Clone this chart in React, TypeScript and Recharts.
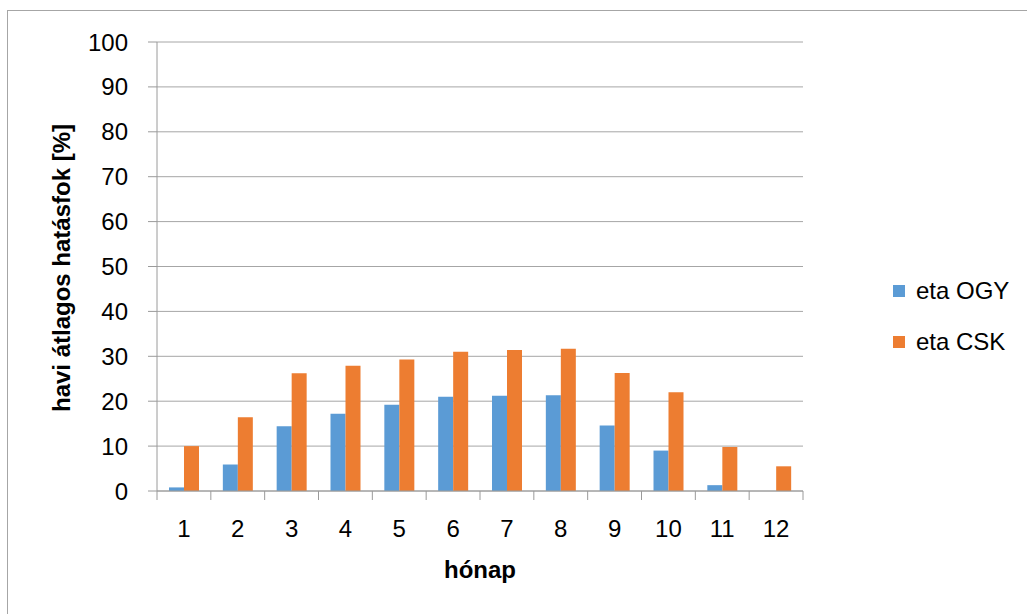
import { Bar, BarChart, CartesianGrid, Label, Legend, XAxis, YAxis } from "recharts";

// havi adatok
const months = ["1", "2", "3", "4", "5", "6", "7", "8", "9", "10", "11", "12"];
const etaOGY = [0.8, 5.9, 14.4, 17.2, 19.2, 21.0, 21.2, 21.3, 14.6, 9.0, 1.3, 0];
const etaCSK = [10.0, 16.4, 26.2, 27.9, 29.3, 31.0, 31.4, 31.7, 26.3, 22.0, 9.8, 5.5];
const yTicks = [0, 10, 20, 30, 40, 50, 60, 70, 80, 90, 100];

const series = [
    { key: "ogy", name: "eta OGY", color: "#5B9BD5" },
    { key: "csk", name: "eta CSK", color: "#ED7D31" },
];

const data = months.map((m, i) => ({ month: m, ogy: etaOGY[i], csk: etaCSK[i] }));

const W = 1027;
const H = 614;
const X_AXIS_H = 30;
const MARGIN = { top: 42, right: 94, left: 0, bottom: 123 - X_AXIS_H };
const LEGEND_W = 130;
const Y_AXIS_W = 157;
const PLOT_W = W - Y_AXIS_W - MARGIN.right - LEGEND_W;
const BAND = PLOT_W / months.length;
const FONT = "'Liberation Sans', Arial, sans-serif";
const AXIS_GRAY = "#9a9a9a";
const TICK_SIZE = 9;
const TICK_MARGIN = 20;

// Excel-style ticks: between categories, label centered
const MonthTick = ({ x, y, payload, index }: any) => {
    const top = y - TICK_SIZE - TICK_MARGIN;
    return (
        <g>
            <line x1={x - BAND / 2} x2={x - BAND / 2} y1={top} y2={top + TICK_SIZE} stroke={AXIS_GRAY} />
            {index === months.length - 1 && (
                <line x1={x + BAND / 2} x2={x + BAND / 2} y1={top} y2={top + TICK_SIZE} stroke={AXIS_GRAY} />
            )}
            <text x={x} y={y} dy="0.71em" textAnchor="middle" fill="#000" fontSize={24} fontFamily={FONT}>
                {payload.value}
            </text>
        </g>
    );
};

const SideLegend = () => (
    <div style={{ fontFamily: FONT, fontSize: 24, color: "#000" }}>
        {series.map((s) => (
            <div key={s.key} style={{ display: "flex", alignItems: "center", height: 51 }}>
                <div style={{ width: 12, height: 12, background: s.color, marginRight: 11 }} />
                <span>{s.name}</span>
            </div>
        ))}
    </div>
);

export default function App() {
    return (
        <div style={{ position: "absolute", left: 0, top: 0, width: W, height: H, overflow: "hidden", background: "#fff" }}>
            <div
                style={{
                    position: "absolute",
                    left: 7,
                    top: 10,
                    width: W + 20,
                    height: H + 20,
                    border: "1px solid #a6a6a6",
                }}
            />
            <BarChart
                width={W}
                height={H}
                data={data}
                margin={MARGIN}
                barGap={0}
                barSize={15}
                style={{ position: "absolute", left: 0, top: 0 }}
            >
                <CartesianGrid vertical={false} stroke="#a6a6a6" strokeWidth={1} />
                <XAxis
                    dataKey="month"
                    height={X_AXIS_H}
                    stroke={AXIS_GRAY}
                    tickLine={false}
                    tickSize={TICK_SIZE}
                    tickMargin={TICK_MARGIN}
                    tick={<MonthTick />}
                    interval={0}
                >
                    <Label
                        content={() => (
                            <text x={480} y={578} textAnchor="middle" fontSize={24} fontWeight="bold" fontFamily={FONT} fill="#000">
                                hónap
                            </text>
                        )}
                    />
                </XAxis>
                <YAxis
                    width={Y_AXIS_W}
                    domain={[0, 100]}
                    ticks={yTicks}
                    interval={0}
                    stroke={AXIS_GRAY}
                    tickSize={TICK_SIZE}
                    tickMargin={TICK_MARGIN}
                    tick={{ fill: "#000", fontSize: 24, fontFamily: FONT }}
                >
                    <Label
                        content={() => (
                            <text
                                x={70}
                                y={268}
                                transform="rotate(-90, 70, 268)"
                                textAnchor="middle"
                                fontSize={24}
                                fontWeight="bold"
                                fontFamily={FONT}
                                fill="#000"
                            >
                                havi átlagos hatásfok [%]
                            </text>
                        )}
                    />
                </YAxis>
                <Legend
                    layout="vertical"
                    align="right"
                    verticalAlign="middle"
                    content={<SideLegend />}
                    wrapperStyle={{ left: 893, top: 265, width: LEGEND_W }}
                />
                {series.map((s) => (
                    <Bar key={s.key} dataKey={s.key} name={s.name} fill={s.color} isAnimationActive={false} />
                ))}
            </BarChart>
        </div>
    );
}
